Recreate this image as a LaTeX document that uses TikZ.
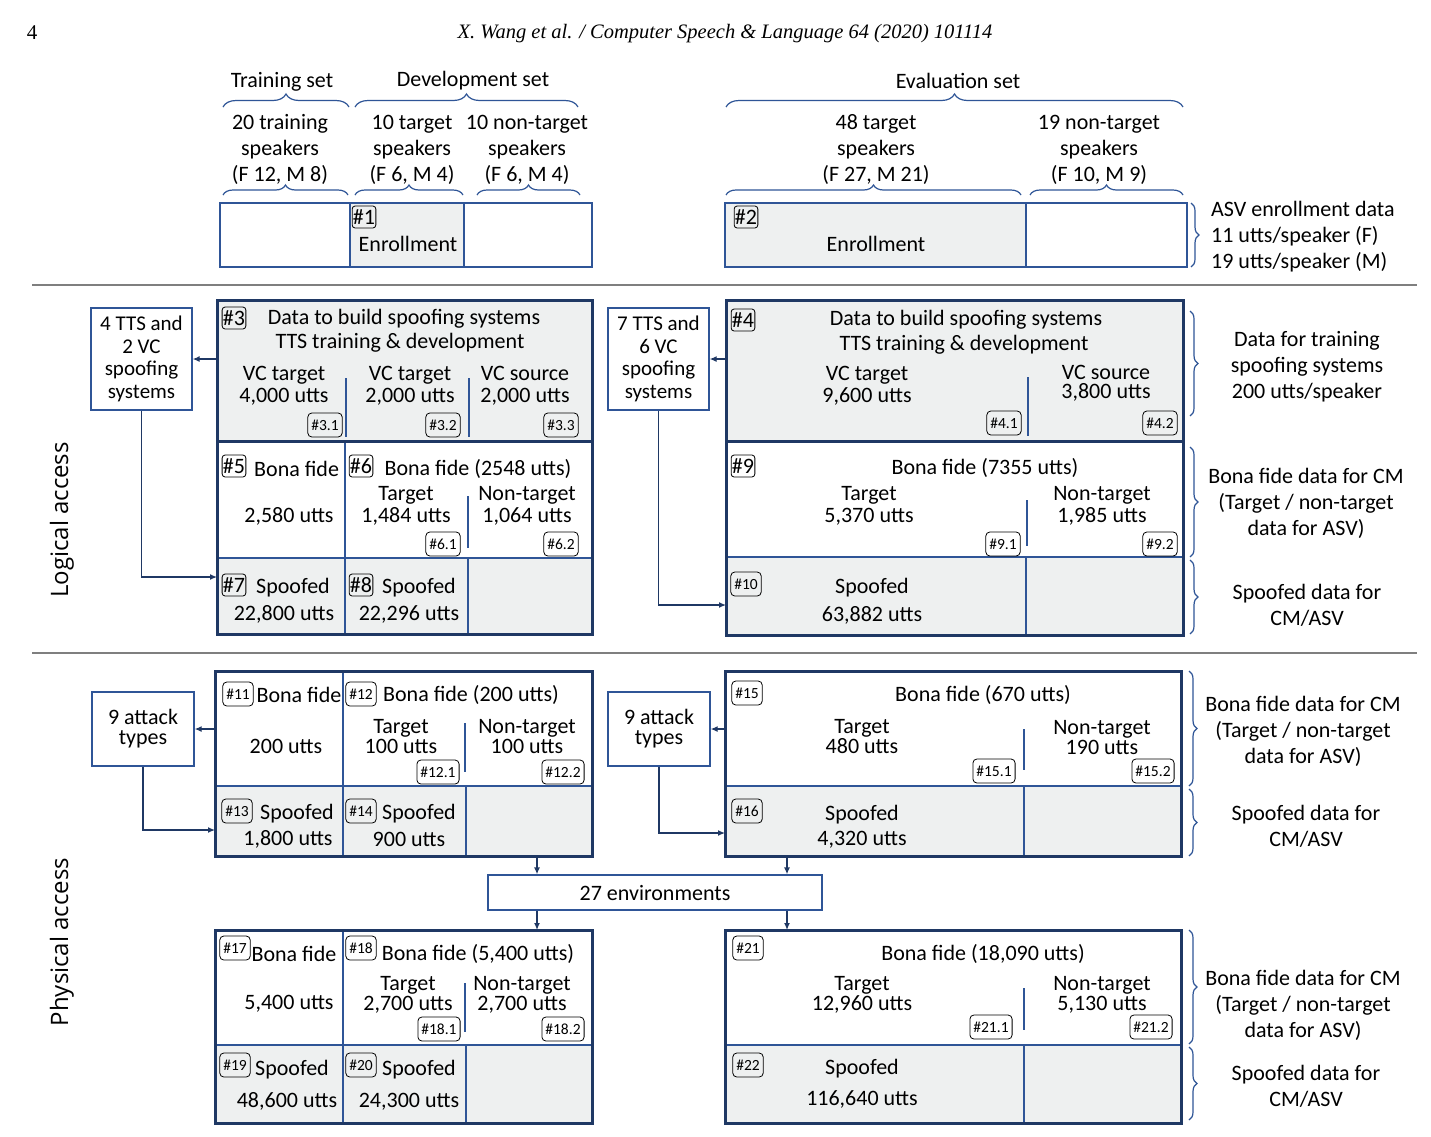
\documentclass[tikz,border=0pt]{standalone}
\usepackage{fontspec}
\setmainfont{Carlito}
\newfontfamily\hdrfont{Liberation Serif}
\newfontfamily\osans{Open Sans}
\usetikzlibrary{arrows.meta,fit,decorations.pathreplacing}
\definecolor{navy}{HTML}{1F3864}
\definecolor{lblue}{HTML}{2F5597}
\definecolor{cellgray}{HTML}{EEF0F0}
\definecolor{rulegray}{HTML}{7F7F7F}
\newcommand{\cel}[6][]{\node[cell,#1,fit={(#3,#4) (#5,#6)}] (#2) {};}
\newcommand{\outl}[5]{\node[outerbox,fit={(#2,#3) (#4,#5)}] (#1) {};}
\tikzset{
  cell/.style={draw=lblue, line width=1.3pt, inner sep=0pt, outer sep=0pt, fill=white},
  gcell/.style={fill=cellgray},
  outerbox/.style={draw=navy, line width=3pt, inner sep=0pt, outer sep=0pt},
  sepline/.style={draw=lblue, line width=1.3pt},
  tx/.style={font=\fontsize{22}{22}\selectfont, inner sep=0pt, align=center, yshift=-1.5pt},
  txw/.style={font=\fontsize{22}{26}\selectfont, inner sep=0pt, align=center, yshift=-1.5pt},
  bdg/.style={draw=black, line width=0.8pt, rounded corners=3pt, inner xsep=0.8pt, inner ysep=0pt, minimum height=22pt, font=\fontsize{22}{22}\selectfont},
  sbdg/.style={bdg, rounded corners=4pt, inner xsep=3.5pt, minimum height=24pt, font=\fontsize{15.5}{15.5}\selectfont},
  sidebox/.style={draw=lblue, line width=1.3pt, inner sep=0pt, align=center, font=\fontsize{21}{22.5}\selectfont},
  arr/.style={draw=navy, line width=1.3pt, -{Latex[length=7pt,width=6pt]}},
  br/.style={decorate, decoration={brace, amplitude=#1}, draw=lblue, line width=1.2pt},
  br/.default=8pt,
  hrule/.style={draw=rulegray, line width=1.3pt},
  rot/.style={font=\osans\fontsize{24}{24}\selectfont, rotate=90, inner sep=0pt},
}
\begin{document}
\begin{tikzpicture}[x=1pt,y=-1pt]
\useasboundingbox[fill=white] (0,0) rectangle (1431,1136);

% header
\node[font=\hdrfont\fontsize{21}{21}\selectfont, inner sep=0pt] (pgno) at (32,33) {4};
\node[font=\hdrfont\itshape\fontsize{20.5}{21}\selectfont, inner sep=0pt] (hdr) at (725,34) {X. Wang et al. / Computer Speech \& Language 64 (2020) 101114};

% set titles
\node[tx] (ttrain) at (282,80) {Training set};
\node[tx] (tdev) at (473,79) {Development set};
\node[tx] (teval) at (958,79) {Evaluation set};
\draw[br=13pt] (223,107) -- (349,107);
\draw[br=13pt] (355,107) -- (578,107);
\draw[br=13pt] (726,107) -- (1183,107);

\node[txw] (s1) at (280,148) {20 training\\speakers\\(F 12, M 8)};
\node[txw] (s2) at (412,148) {10 target\\speakers\\(F 6, M 4)};
\node[txw] (s3) at (527,148) {10 non-target\\speakers\\(F 6, M 4)};
\node[txw] (s4) at (876,148) {48 target\\speakers\\(F 27, M 21)};
\node[txw] (s5) at (1099,148) {19 non-target\\speakers\\(F 10, M 9)};
\draw[br=10pt] (223,195) -- (348,195);
\draw[br=10pt] (355,195) -- (463,195);
\draw[br=10pt] (477,195) -- (580,195);
\draw[br=10pt] (726,195) -- (1021,195);
\draw[br=10pt] (1030,195) -- (1183,195);

% enrollment row
\cel{en0}{220}{203}{350}{267}
\cel[gcell]{en1}{350}{203}{464}{267}
\cel{en2}{464}{203}{592}{267}
\cel[gcell]{en3}{725}{203}{1026}{267}
\cel{en4}{1026}{203}{1187}{267}
\node[bdg] (b1) at (364,217) {\#1};
\node[tx] (e1) at (408,242) {Enrollment};
\node[bdg] (b2) at (746,217) {\#2};
\node[tx] (e2) at (876,242) {Enrollment};
\draw[br] (1191,203) -- (1191,267);
\node[txw, align=left, anchor=west] (asv) at (1211,235) {ASV enrollment data\\11 utts/speaker (F)\\19 utts/speaker (M)};

\draw[hrule] (32,285) -- (1417,285);
\draw[hrule] (32,653) -- (1417,653);

% ===== Logical access, left =====
\cel[gcell]{la3}{217}{300}{592}{441}
\cel{la5}{217}{441}{345}{558}
\cel{la6}{345}{441}{592}{558}
\cel[gcell]{la7}{217}{558}{345}{634}
\cel[gcell]{la8}{345}{558}{468}{634}
\cel[gcell]{la8b}{468}{558}{592}{634}
\draw[sepline] (346,378) -- (346,437);
\draw[sepline] (469,378) -- (469,437);
\draw[sepline] (468,496) -- (468,548);
\outl{laT}{217}{300}{592}{441}
\outl{laB}{217}{441}{592}{634}

\node[bdg] (b3) at (234,318) {\#3};
\node[tx] (t3a) at (404,317) {Data to build spoofing systems};
\node[tx] (t3b) at (400,341) {TTS training \& development};
\node[tx] (t31) at (284,384) {VC target\\4,000 utts};
\node[tx] (t32) at (410,384) {VC target\\2,000 utts};
\node[tx] (t33) at (525,384) {VC source\\2,000 utts};
\node[sbdg] (b31) at (325,425) {\#3.1};
\node[sbdg] (b32) at (443,425) {\#3.2};
\node[sbdg] (b33) at (561,425) {\#3.3};

\node[bdg] (b5) at (234,466) {\#5};
\node[tx, anchor=west] (t5) at (254,467) {Bona fide};
\node[tx] (t5b) at (289,515) {2,580 utts};
\node[bdg] (b6) at (361,466) {\#6};
\node[tx] (t6) at (478,467) {Bona fide (2548 utts)};
\node[tx] (t61) at (406,504) {Target\\1,484 utts};
\node[tx] (t62) at (527,504) {Non-target\\1,064 utts};
\node[sbdg] (b61) at (443,544) {\#6.1};
\node[sbdg] (b62) at (561,544) {\#6.2};

\node[bdg] (b7) at (234,585) {\#7};
\node[tx] (t7) at (293,586) {Spoofed};
\node[tx] (t7b) at (284,613) {22,800 utts};
\node[bdg] (b8) at (361,585) {\#8};
\node[tx] (t8) at (419,586) {Spoofed};
\node[tx] (t8b) at (409,613) {22,296 utts};

\node[sidebox, minimum width=101pt, minimum height=102pt] (sA) at (141.5,359) {4 TTS and\\2 VC\\spoofing\\systems};
\coordinate (la7in) at (217,577);
\draw[arr] (sA.east -| la3.west) -- (sA.east);
\draw[arr] (sA.south) |- (la7in);
\node[rot] (lalab) at (62,520) {Logical access};

% ===== Logical access, right =====
\cel[gcell]{la4}{726}{300}{1183}{441}
\cel{la9}{726}{441}{1183}{557}
\cel[gcell]{la10}{726}{557}{1026}{635}
\cel[gcell]{la10b}{1026}{557}{1183}{635}
\draw[sepline] (1028,377) -- (1028,436);
\draw[sepline] (1027,500) -- (1027,546);
\outl{lrT}{726}{300}{1183}{441}
\outl{lrB}{726}{441}{1183}{635}

\node[bdg] (b4) at (743,320) {\#4};
\node[tx] (t4a) at (966,318) {Data to build spoofing systems};
\node[tx] (t4b) at (964,343) {TTS training \& development};
\node[tx] (t41) at (867,384) {VC target\\9,600 utts};
\node[tx, font=\fontsize{22}{19.5}\selectfont] (t42) at (1106,382) {VC source\\3,800 utts};
\node[sbdg] (b41) at (1004,423) {\#4.1};
\node[sbdg] (b42) at (1160,423) {\#4.2};

\node[bdg] (b9) at (743,466) {\#9};
\node[tx] (t9) at (985,466) {Bona fide (7355 utts)};
\node[tx] (t91) at (869,504) {Target\\5,370 utts};
\node[tx] (t92) at (1102,504) {Non-target\\1,985 utts};
\node[sbdg] (b91) at (1003,544) {\#9.1};
\node[sbdg] (b92) at (1160,544) {\#9.2};

\node[sbdg] (b10) at (746,584) {\#10};
\node[tx] (t10) at (872,586) {Spoofed};
\node[tx] (t10b) at (872,614) {63,882 utts};

\node[sidebox, minimum width=101pt, minimum height=102pt] (sB) at (658.5,359) {7 TTS and\\6 VC\\spoofing\\systems};
\coordinate (la10in) at (726,605);
\draw[arr] (sB.east -| la4.west) -- (sB.east);
\draw[arr] (sB.south) |- (la10in);

\draw[br] (1190,311) -- (1190,416);
\draw[br] (1190,447) -- (1190,557);
\draw[br] (1190,560) -- (1190,634);
\node[txw] (r1) at (1307,365) {Data for training\\spoofing systems\\200 utts/speaker};
\node[txw] (r2) at (1306,502) {Bona fide data for CM\\(Target / non-target\\data for ASV)};
\node[txw] (r3) at (1307,604) {Spoofed data for\\CM/ASV};

% ===== Physical access, left top =====
\cel{pa11}{215}{671}{343}{786}
\cel{pa12}{343}{671}{592}{786}
\cel[gcell]{pa13}{215}{786}{343}{856}
\cel[gcell]{pa14}{343}{786}{466}{856}
\cel[gcell]{pa14b}{466}{786}{592}{856}
\draw[sepline] (465,723) -- (465,772);
\outl{paLT}{215}{671}{592}{856}

\node[sbdg] (b11) at (238,694) {\#11};
\node[tx] (t11) at (299,693) {Bona fide};
\node[tx] (t11b) at (286,745) {200 utts};
\node[sbdg] (b12) at (361,694) {\#12};
\node[tx] (t12) at (471,693) {Bona fide (200 utts)};
\node[tx, font=\fontsize{22}{20}\selectfont] (t121) at (401,735) {Target\\100 utts};
\node[tx, font=\fontsize{22}{20}\selectfont] (t122) at (527,735) {Non-target\\100 utts};
\node[sbdg] (b121) at (438,772) {\#12.1};
\node[sbdg] (b122) at (563,772) {\#12.2};

\node[sbdg] (b13) at (237,811) {\#13};
\node[tx] (t13) at (297,812) {Spoofed};
\node[tx] (t13b) at (288,838) {1,800 utts};
\node[sbdg] (b14) at (361,811) {\#14};
\node[tx] (t14) at (419,812) {Spoofed};
\node[tx] (t14b) at (409,838) {900 utts};

\node[sidebox, minimum width=102pt, minimum height=74pt, font=\fontsize{22}{20}\selectfont] (sC) at (143,729) {9 attack\\types};
\coordinate (pa13in) at (215,830);
\draw[arr] (sC.east -| pa11.west) -- (sC.east);
\draw[arr] (sC.south) |- (pa13in);

% environments
\node[sidebox, minimum width=334pt, minimum height=35pt, font=\fontsize{22}{22}\selectfont] (env) at (655,892.5) {27 environments};
\coordinate (xL) at (537,0);
\coordinate (xR) at (787,0);

% ===== Physical access, left bottom =====
\cel{pa17}{215}{930}{343}{1045}
\cel{pa18}{343}{930}{592}{1045}
\cel[gcell]{pa19}{215}{1045}{343}{1123}
\cel[gcell]{pa20}{343}{1045}{466}{1123}
\cel[gcell]{pa20b}{466}{1045}{592}{1123}
\draw[sepline] (465,983) -- (465,1032);
\outl{paLB}{215}{930}{592}{1123}

\node[sbdg] (b17) at (235,948) {\#17};
\node[tx] (t17) at (294,952) {Bona fide};
\node[tx] (t17b) at (289,1002) {5,400 utts};
\node[sbdg] (b18) at (361,948) {\#18};
\node[tx] (t18) at (478,952) {Bona fide (5,400 utts)};
\node[tx, font=\fontsize{22}{20}\selectfont] (t181) at (408,993) {Target\\2,700 utts};
\node[tx, font=\fontsize{22}{20}\selectfont] (t182) at (522,993) {Non-target\\2,700 utts};
\node[sbdg] (b181) at (439,1029) {\#18.1};
\node[sbdg] (b182) at (563,1029) {\#18.2};

\node[sbdg] (b19) at (235,1065) {\#19};
\node[tx] (t19) at (292,1068) {Spoofed};
\node[tx] (t19b) at (287,1100) {48,600 utts};
\node[sbdg] (b20) at (361,1065) {\#20};
\node[tx] (t20) at (419,1068) {Spoofed};
\node[tx] (t20b) at (409,1100) {24,300 utts};

\node[rot] (palab) at (62,942) {Physical access};

% ===== Physical access, right top =====
\cel{pa15}{725}{671}{1181}{786}
\cel[gcell]{pa16}{725}{786}{1024}{856}
\cel[gcell]{pa16b}{1024}{786}{1181}{856}
\draw[sepline] (1024,729) -- (1024,770);
\outl{paRT}{725}{671}{1181}{856}

\node[sbdg] (b15) at (747,693) {\#15};
\node[tx] (t15) at (983,693) {Bona fide (670 utts)};
\node[tx, font=\fontsize{22}{20.5}\selectfont] (t151) at (862,735) {Target\\480 utts};
\node[tx, font=\fontsize{22}{20.5}\selectfont] (t152) at (1102,736) {Non-target\\190 utts};
\node[sbdg] (b151) at (994,771) {\#15.1};
\node[sbdg] (b152) at (1153,771) {\#15.2};
\node[sbdg] (b16) at (747,811) {\#16};
\node[tx, font=\fontsize{22}{25}\selectfont] (t16) at (862,825.5) {Spoofed\\4,320 utts};

\node[sidebox, minimum width=102pt, minimum height=74pt, font=\fontsize{22}{20}\selectfont] (sD) at (659,729) {9 attack\\types};
\coordinate (pa16in) at (725,833);
\draw[arr] (sD.east -| pa15.west) -- (sD.east);
\draw[arr] (sD.south) |- (pa16in);

\draw[br] (1189,671) -- (1189,786);
\draw[br] (1189,789) -- (1189,856);
\node[txw] (r4) at (1303,730) {Bona fide data for CM\\(Target / non-target\\data for ASV)};
\node[txw] (r5) at (1306,825) {Spoofed data for\\CM/ASV};

% ===== Physical access, right bottom =====
\cel{pa21}{725}{930}{1181}{1045}
\cel[gcell]{pa22}{725}{1045}{1024}{1123}
\cel[gcell]{pa22b}{1024}{1045}{1181}{1123}
\draw[sepline] (1024,988) -- (1024,1030);
\outl{paRB}{725}{930}{1181}{1123}

\node[sbdg] (b21) at (748,948) {\#21};
\node[tx] (t21) at (983,952) {Bona fide (18,090 utts)};
\node[tx, font=\fontsize{22}{20}\selectfont] (t211) at (862,993) {Target\\12,960 utts};
\node[tx, font=\fontsize{22}{20}\selectfont] (t212) at (1102,993) {Non-target\\5,130 utts};
\node[sbdg] (b211) at (991,1027) {\#21.1};
\node[sbdg] (b212) at (1151,1027) {\#21.2};
\node[sbdg] (b22) at (748,1065) {\#22};
\node[tx] (t22) at (862,1067) {Spoofed};
\node[tx] (t22b) at (862,1098) {116,640 utts};

\draw[br] (1189,930) -- (1189,1044);
\draw[br] (1189,1047) -- (1189,1120);
\node[txw] (r6) at (1303,1004) {Bona fide data for CM\\(Target / non-target\\data for ASV)};
\node[txw] (r7) at (1306,1085) {Spoofed data for\\CM/ASV};

% environment arrows
\draw[arr] (paLT.south -| xL) -- (env.north -| xL);
\draw[arr] (env.south -| xL) -- (paLB.north -| xL);
\draw[arr] (paRT.south -| xR) -- (env.north -| xR);
\draw[arr] (env.south -| xR) -- (paRB.north -| xR);
\end{tikzpicture}
\end{document}
